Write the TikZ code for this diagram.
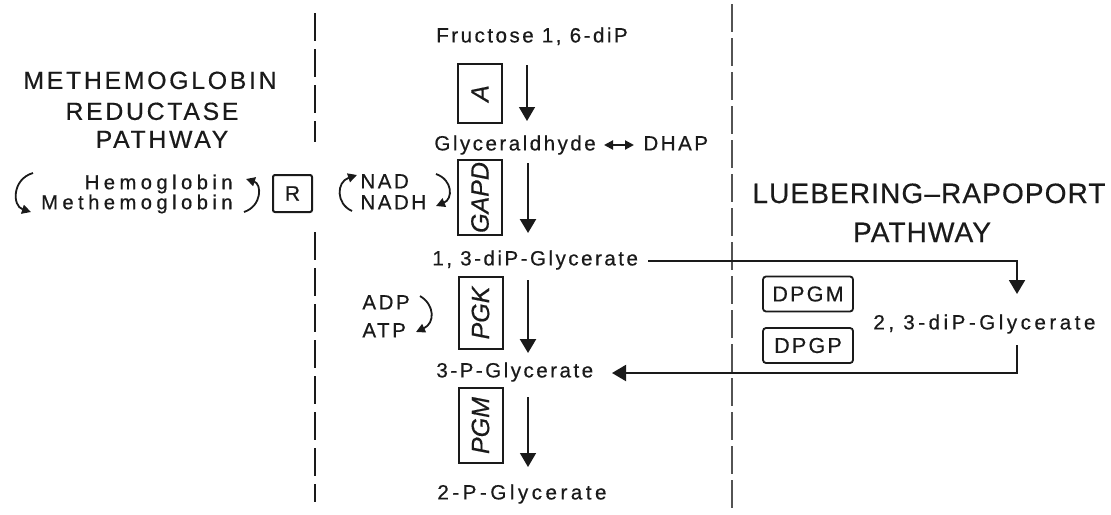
\documentclass[tikz,border=0pt]{standalone}
\usepackage{fontspec}
\setmainfont{Liberation Sans}
\usetikzlibrary{arrows.meta}
\definecolor{inkc}{HTML}{1A1A1A}
\tikzset{
  met/.style={inner sep=0pt, text height=7.4pt, text depth=0pt, text=inkc,
    font=\fontsize{10.3}{12}\selectfont\addfontfeature{LetterSpace=12,FakeBold=0.5}},
  metw/.style={met, font=\fontsize{10.3}{12}\selectfont\addfontfeature{LetterSpace=17,FakeBold=0.5}},
  ttlL/.style={inner sep=0pt, text height=8.9pt, text depth=0pt, text=inkc,
    font=\fontsize{12.4}{14}\selectfont\addfontfeature{LetterSpace=11,FakeBold=0.5}},
  ttlR/.style={inner sep=0pt, text height=10pt, text depth=0pt, text=inkc,
    font=\fontsize{14}{16}\selectfont\addfontfeature{LetterSpace=4,FakeBold=0.5}},
  hemo/.style={inner sep=0pt, text height=7.2pt, text depth=0pt, text=inkc,
    font=\fontsize{10.1}{12}\selectfont\addfontfeature{LetterSpace=22,FakeBold=0.6}},
  enz/.style={draw=inkc, line width=1pt, inner sep=0pt, rotate=90,
    minimum height=22pt, text=inkc,
    font=\itshape\fontsize{12.5}{13}\selectfont\addfontfeature{FakeBold=0.4}},
  rbox/.style={draw=inkc, line width=1pt, inner sep=0pt, rounded corners=1pt,
    minimum width=19.5pt, minimum height=18.5pt, text=inkc,
    font=\fontsize{10.5}{12}\selectfont\addfontfeature{FakeBold=0.5}},
  dpg/.style={draw=inkc, line width=0.9pt, rounded corners=1.5pt, inner sep=0pt,
    minimum width=45pt, minimum height=17.5pt, text=inkc,
    font=\fontsize{10.8}{12}\selectfont\addfontfeature{LetterSpace=10,FakeBold=0.5}},
  flow/.style={draw=inkc, line width=1.2pt, -{Triangle[width=8pt,length=7pt]}},
  flowthin/.style={flow, line width=0.7pt},
  link/.style={draw=inkc, line width=1pt, -{Triangle[width=8pt,length=7pt]}},
  swap/.style={draw=inkc, line width=1pt,
    {Triangle[width=4.5pt,length=4.5pt]}-{Triangle[width=4.5pt,length=4.5pt]}},
  cyc/.style={draw=inkc, line width=0.9pt, -{Triangle[width=4.5pt,length=4.5pt]}},
  sepL/.style={draw=inkc, line width=1.4pt, dash pattern=on 14pt off 4pt},
  sepR/.style={draw=inkc!75, line width=0.7pt, dash pattern=on 14pt off 3pt},
}
\begin{document}
\begin{tikzpicture}[x=0.5pt, y=-0.5pt]
\useasboundingbox[fill=white] (0,0) rectangle (1111,514);

% section separators
\coordinate (sl1) at (315,13);  \coordinate (sl2) at (315,142);
\coordinate (sl3) at (315,232); \coordinate (sl4) at (315,502);
\coordinate (sr1) at (732,4);   \coordinate (sr2) at (732,512);
\draw[sepL] (sl1) -- (sl2);
\draw[sepL] (sl3) -- (sl4);
\draw[sepR] (sr1) -- (sr2);

% pathway titles
\node[ttlL] (mt1) at (150,80)  {METHEMOGLOBIN};
\node[ttlL] (mt2) at (152,111) {REDUCTASE};
\node[ttlL] (mt3) at (162,139) {PATHWAY};
\node[ttlR] (lr1) at (929,193) {LUEBERING--RAPOPORT};
\node[ttlR] (lr2) at (922,232) {PATHWAY};

% methemoglobin reductase cycle
\node[hemo, anchor=east] (hb)  at (233,182) {Hemoglobin};
\node[hemo, anchor=east] (mhb) at (233,202) {Methemoglobin};
\node[rbox] (R) at (292.5,193.5) {R};
\coordinate (hl1) at (33,173);  \coordinate (hl2) at (31,212);
\coordinate (hr1) at (244,212); \coordinate (hr2) at (246,179);
\draw[cyc] (hl1) .. controls (12,179) and (12,206) .. (hl2);
\draw[cyc] (hr1) .. controls (262,206) and (262,184) .. (hr2);

% glycolytic trunk
\node[met] (fru) at (532,35) {Fructose 1, 6-diP};
\node[enz, minimum width=29.5pt] (A) at (480,93.5) {A};
\node[met, anchor=west] (gla)  at (434,143) {Glyceraldhyde};
\node[met, anchor=west] (dhap) at (643,143) {DHAP};
\node[enz, minimum width=37.5pt] (gapd) at (480,197.5) {GAPD};
\node[met, anchor=west] (nad)  at (360,181) {NAD};
\node[met, anchor=west] (nadh) at (360,202) {NADH};
\node[met, anchor=west] (g13) at (432,258) {1, 3-diP-Glycerate};
\node[enz, minimum width=36pt] (pgk) at (480.5,313) {PGK};
\node[met, anchor=west] (adp) at (362,302) {ADP};
\node[met, anchor=west] (atp) at (362,330) {ATP};
\node[met, anchor=west] (g3) at (436,370) {3-P-Glycerate};
\node[enz, minimum width=37.5pt] (pgm) at (480.5,425.5) {PGM};
\node[metw, anchor=west] (g2) at (437,492) {2-P-Glycerate};

\coordinate (a1s) at (527,65);  \coordinate (a1e) at (527,121);
\coordinate (a2s) at (528,163); \coordinate (a2e) at (528,233);
\coordinate (a3s) at (528,280); \coordinate (a3e) at (528,353);
\coordinate (a4s) at (528,397); \coordinate (a4e) at (528,467);
\draw[flowthin] (a1s) -- (a1e);
\draw[flow] (a2s) -- (a2e);
\draw[flow] (a3s) -- (a3e);
\draw[flowthin] (a4s) -- (a4e);

% triose isomerisation
\coordinate (t1) at (604,145); \coordinate (t2) at (634,145);
\draw[swap] (t1) -- (t2);

% cofactor arrows
\coordinate (nl1) at (352,211); \coordinate (nl2) at (357,175);
\coordinate (nr1) at (436,174); \coordinate (nr2) at (436,206);
\draw[cyc] (nl1) .. controls (336,204) and (336,182) .. (nl2);
\draw[cyc] (nr1) .. controls (453,180) and (453,199) .. (nr2);
\coordinate (ap1) at (420,296); \coordinate (ap2) at (416,332);
\draw[cyc] (ap1) .. controls (435,305) and (435,323) .. (ap2);

% Luebering-Rapoport shunt
\node[dpg] (dpgm) at (808,294) {DPGM};
\node[dpg] (dpgp) at (808,345.5) {DPGP};
\node[metw, anchor=west] (g23) at (873,322) {2, 3-diP-Glycerate};
\coordinate (s1) at (648,261);  \coordinate (s2) at (1017,294);
\coordinate (s3) at (1017,345); \coordinate (s4) at (612,373);
\draw[link] (s1) -| (s2);
\draw[link] (s3) |- (s4);
\end{tikzpicture}
\end{document}
